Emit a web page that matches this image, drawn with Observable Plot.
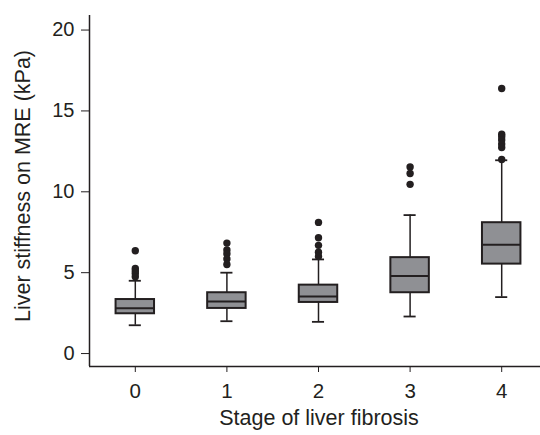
<!DOCTYPE html>
<html>
<head>
<meta charset="utf-8">
<script src="https://cdn.jsdelivr.net/npm/d3@7"></script>
<script src="https://cdn.jsdelivr.net/npm/@observablehq/plot@0.6"></script>
<style>
  html, body { margin: 0; padding: 0; background: #fff; }
  #chart svg { display: block; }
</style>
</head>
<body>
<div id="chart"></div>
<script>
const stages = [0, 1, 2, 3, 4];
const lowWhisker = [1.75, 2.0, 1.96, 2.29, 3.49];
const q1 = [2.46, 2.79, 3.16, 3.76, 5.53];
const median = [2.8, 3.22, 3.53, 4.79, 6.73];
const q3 = [3.34, 3.76, 4.23, 5.93, 8.09];
const highWhisker = [4.5, 5.0, 5.82, 8.56, 11.95];
const outliers = [
  [6.36, 5.26, 5.1, 4.95, 4.75],
  [6.83, 6.4, 6.17, 5.85, 5.51],
  [8.11, 7.16, 6.69, 6.27, 6.0],
  [11.54, 11.13, 10.46],
  [16.39, 13.56, 13.4, 13.2, 12.95, 12.74, 12.0]
];
const yTicks = [0, 5, 10, 15, 20];
const xLabel = "Stage of liver fibrosis";
const yLabel = "Liver stiffness on MRE (kPa)";

const boxes = stages.map((s, i) => ({
  stage: s, lo: lowWhisker[i], q1: q1[i], med: median[i], q3: q3[i], hi: highWhisker[i]
}));
const dots = stages.flatMap((s, i) => outliers[i].map(v => ({stage: s, v})));

const ink = "#231f20";
const half = 0.21, cap = 0.066;
const font = "Liberation Sans, Arial, Helvetica, sans-serif";

const chart = Plot.plot({
  width: 540,
  height: 435,
  marginLeft: 89,
  marginRight: 0,
  marginTop: 15,
  marginBottom: 69,
  style: {fontFamily: font, fontSize: "20px", color: ink, background: "#fff"},
  x: {type: "linear", domain: [-0.5, 4.5], range: [89, 547], axis: null},
  y: {domain: [-0.8, 20.9], range: [366, 15], axis: null},
  marks: [
    Plot.axisY({ticks: yTicks, tickSize: 8, tickPadding: 7, tickFormat: d => d, label: null, fontSize: 20, stroke: ink}),
    Plot.axisX({ticks: stages, tickSize: 6, tickPadding: 11, tickFormat: d => d, label: null, fontSize: 20.5, stroke: ink, anchor: "bottom"}),
    Plot.ruleX([-0.5], {y1: -0.8, y2: 20.9, stroke: ink, strokeWidth: 1.5}),
    Plot.ruleY([-0.8], {x1: -0.5, x2: 4.5, stroke: ink, strokeWidth: 1.5}),
    // whiskers
    Plot.ruleX(boxes, {x: "stage", y1: "q3", y2: "hi", stroke: ink, strokeWidth: 1.5}),
    Plot.ruleX(boxes, {x: "stage", y1: "lo", y2: "q1", stroke: ink, strokeWidth: 1.5}),
    Plot.ruleY(boxes, {y: "hi", x1: d => d.stage - cap, x2: d => d.stage + cap, stroke: ink, strokeWidth: 1.8}),
    Plot.ruleY(boxes, {y: "lo", x1: d => d.stage - cap, x2: d => d.stage + cap, stroke: ink, strokeWidth: 1.8}),
    // boxes
    Plot.rect(boxes, {x1: d => d.stage - half, x2: d => d.stage + half, y1: "q1", y2: "q3", fill: "#8f9094", stroke: ink, strokeWidth: 2}),
    Plot.ruleY(boxes, {y: "med", x1: d => d.stage - half, x2: d => d.stage + half, stroke: ink, strokeWidth: 2}),
    // outliers
    Plot.dot(dots, {x: "stage", y: "v", r: 3.7, fill: ink, stroke: "none"}),
    // axis titles
    Plot.text([xLabel], {frameAnchor: "bottom", textAnchor: "middle", dx: 4, dy: 58, text: d => d, fontSize: 21.5, fill: ink}),
    Plot.text([yLabel], {frameAnchor: "left", textAnchor: "middle", rotate: -90, dx: -66, dy: -5, text: d => d, fontSize: 21.5, fill: ink})
  ]
});
document.getElementById("chart").appendChild(chart);
</script>
</body>
</html>
